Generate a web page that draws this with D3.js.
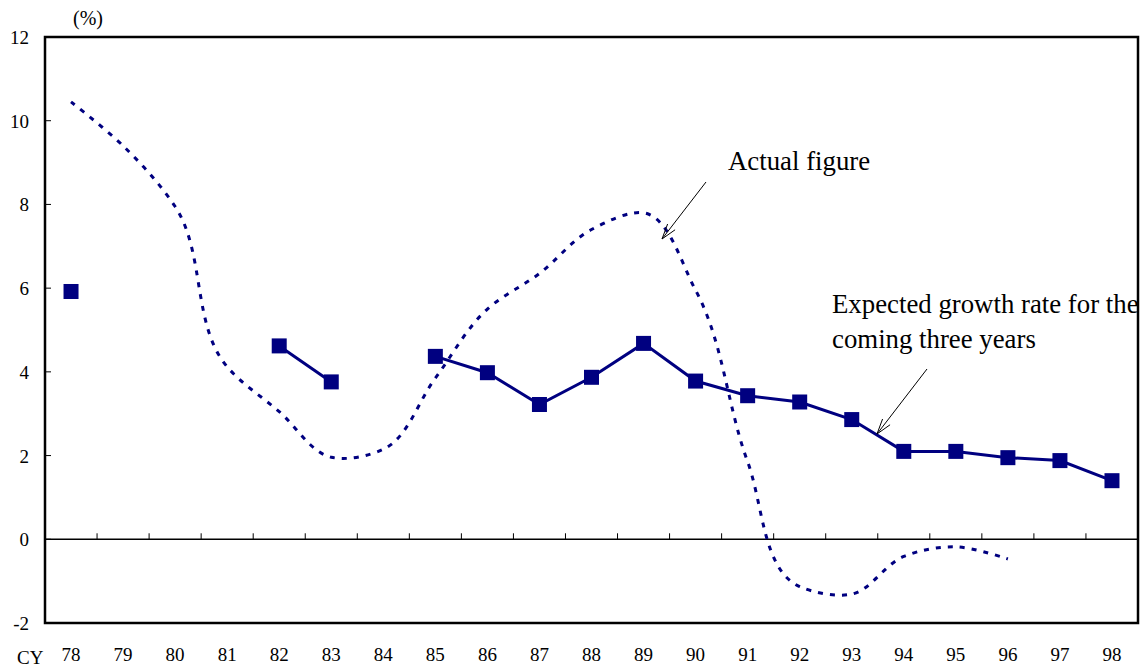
<!DOCTYPE html>
<html><head><meta charset="utf-8">
<script src="https://cdn.jsdelivr.net/npm/d3@7"></script>
<style>body{margin:0;background:#fff}svg{display:block}text{font-family:"Liberation Serif","Times New Roman",serif;fill:#000}</style>
</head><body><svg id="c" width="1144" height="669"></svg>
<script>
const years = ["78","79","80","81","82","83","84","85","86","87","88","89","90","91","92","93","94","95","96","97","98"];
const actual = [10.45,9.4,7.95,4.12,3.05,1.96,2.15,3.85,5.5,6.35,7.4,7.8,5.95,1.85,-1.13,-1.31,-0.41,-0.18,-0.47,null,null];
const expected = [5.92,null,null,null,4.62,3.76,null,4.37,3.98,3.22,3.87,4.68,3.78,3.43,3.28,2.86,2.1,2.1,1.95,1.88,1.4];
const yTicks = [-2,0,2,4,6,8,10,12];

const svg = d3.select("#c");
const L=45,R=1138,T=37,B=623;
const x = d3.scaleBand().domain(years).range([L,R]);
const y = d3.scaleLinear().domain([-2,12]).range([B,T]);
const cx = d => x(d)+x.bandwidth()/2;
const navy = "#000080";

// zero line + category ticks
svg.append("line").attr("x1",L).attr("x2",R).attr("y1",y(0)).attr("y2",y(0)).attr("stroke","#000").attr("stroke-width",1.5);
years.slice(1).forEach(d=>{
  svg.append("line").attr("x1",x(d)).attr("x2",x(d)).attr("y1",y(0)).attr("y2",y(0)-6).attr("stroke","#000").attr("stroke-width",1);
});
// y ticks
yTicks.forEach(v=>{
  if(v>-2 && v<12) svg.append("line").attr("x1",L).attr("x2",L+6).attr("y1",y(v)).attr("y2",y(v)).attr("stroke","#000").attr("stroke-width",1);
  svg.append("text").attr("x",29).attr("y",y(v)+7).attr("text-anchor","end").attr("font-size",19).text(v);
});
// frame
svg.append("rect").attr("x",L).attr("y",T).attr("width",R-L).attr("height",B-T).attr("fill","none").attr("stroke","#000").attr("stroke-width",2.5);

// x labels
years.forEach(d=>{
  svg.append("text").attr("x",cx(d)).attr("y",661).attr("text-anchor","middle").attr("font-size",19).text(d);
});
svg.append("text").attr("x",17).attr("y",664).attr("font-size",19).text("CY");
svg.append("text").attr("x",73).attr("y",25).attr("font-size",20).text("(%)");

// actual dotted smoothed
const act = years.map((d,i)=>({d,v:actual[i]})).filter(p=>p.v!==null);
svg.append("path").datum(act)
  .attr("d",d3.line().x(p=>cx(p.d)).y(p=>y(p.v)).curve(d3.curveCatmullRom.alpha(1)))
  .attr("fill","none").attr("stroke",navy).attr("stroke-width",3).attr("stroke-dasharray","5,7");

// expected line (breaks on null)
const exp = years.map((d,i)=>({d,v:expected[i]}));
svg.append("path").datum(exp)
  .attr("d",d3.line().defined(p=>p.v!==null).x(p=>cx(p.d)).y(p=>y(p.v)))
  .attr("fill","none").attr("stroke",navy).attr("stroke-width",3);
svg.selectAll("rect.m").data(exp.filter(p=>p.v!==null)).enter().append("rect")
  .attr("class","m").attr("x",p=>cx(p.d)-7.5).attr("y",p=>y(p.v)-7.5).attr("width",15).attr("height",15).attr("fill",navy);

// annotations
function arrow(x1,y1,x2,y2){
  svg.append("line").attr("x1",x1).attr("y1",y1).attr("x2",x2).attr("y2",y2).attr("stroke","#000").attr("stroke-width",1);
  const a=Math.atan2(y1-y2,x1-x2), h=16, s=0.3;
  [a+s,a-s].forEach(b=>svg.append("line").attr("x1",x2).attr("y1",y2).attr("x2",x2+h*Math.cos(b)).attr("y2",y2+h*Math.sin(b)).attr("stroke","#000").attr("stroke-width",1));
}
svg.append("text").attr("x",728).attr("y",170).attr("font-size",26.8).text("Actual figure");
arrow(706,182,662,239);
svg.append("text").attr("x",832).attr("y",313).attr("font-size",26.8).text("Expected growth rate for the");
svg.append("text").attr("x",832).attr("y",348).attr("font-size",26.8).text("coming three years");
arrow(927,369,877,434);
</script></body></html>
